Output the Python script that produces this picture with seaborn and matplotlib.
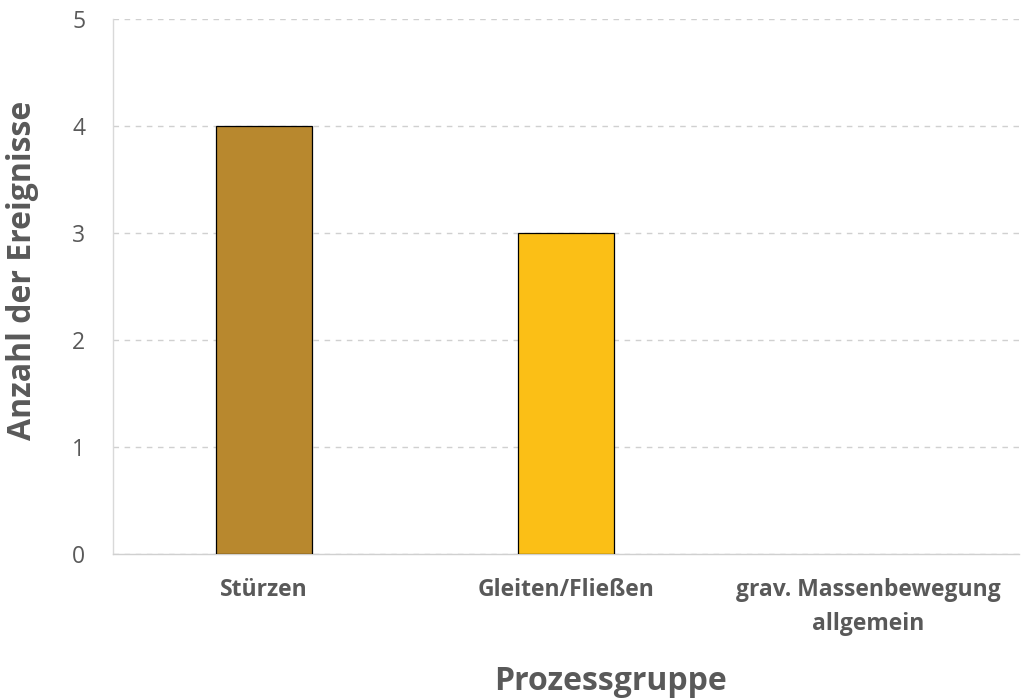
import matplotlib
matplotlib.use("Agg")
import matplotlib.pyplot as plt
import seaborn as sns
import pandas as pd

categories = ["Stürzen", "Gleiten/Fließen", "grav. Massenbewegung\nallgemein"]
values = [4, 3, 0]
colors = ["#B8882E", "#FBBF16", "#A0A0A0"]
y_ticks = [0, 1, 2, 3, 4, 5]

sns.set_theme(style="white")
plt.rcParams["font.family"] = ["Open Sans", "DejaVu Sans"]

df = pd.DataFrame({"Prozessgruppe": categories, "Anzahl": values})

fig = plt.figure(figsize=(10.22, 6.99), dpi=100)
ax = fig.add_axes([0.1106, 0.2074, 0.8864, 0.7654])

sns.barplot(data=df, x="Prozessgruppe", y="Anzahl", hue="Prozessgruppe",
            palette=colors, saturation=1, width=0.315, edgecolor="black",
            linewidth=0.9, legend=False, ax=ax, zorder=3)
for p in ax.patches:
    if p.get_height() == 0:
        p.set_linewidth(0)
        p.set_alpha(0)

ax.set_ylim(0, 5)
ax.set_yticks(y_ticks)
ax.set_xlim(-0.5, 2.5)
ax.yaxis.grid(True, linestyle=(0, (4, 4)), color="#D0D0D0", linewidth=1.0, zorder=0)
ax.set_axisbelow(True)
for s in ["top", "right"]:
    ax.spines[s].set_visible(False)
ax.spines["left"].set_color("#D9D9D9")
ax.spines["bottom"].set_color("#D0D0D0")
ax.spines["left"].set_linewidth(1.0)
ax.spines["bottom"].set_linewidth(1.0)

ax.tick_params(axis="y", length=0, labelsize=16.5, labelcolor="#595959", pad=20)
ax.tick_params(axis="x", length=0, labelsize=16.5, labelcolor="#595959", pad=17)
for lbl in ax.get_xticklabels():
    lbl.set_fontweight("bold")
    lbl.set_linespacing(1.6)

ax.set_ylabel("Anzahl der Ereignisse", fontsize=23, fontweight="bold",
              color="#595959")
ax.set_xlabel("Prozessgruppe", fontsize=23, fontweight="bold",
              color="#595959")
ax.yaxis.set_label_coords(-0.082, 0.531)
ax.xaxis.set_label_coords(0.5486, -0.208)
ax.xaxis.label.set_va("top")

fig.savefig("out.png", dpi=100, facecolor="white")
